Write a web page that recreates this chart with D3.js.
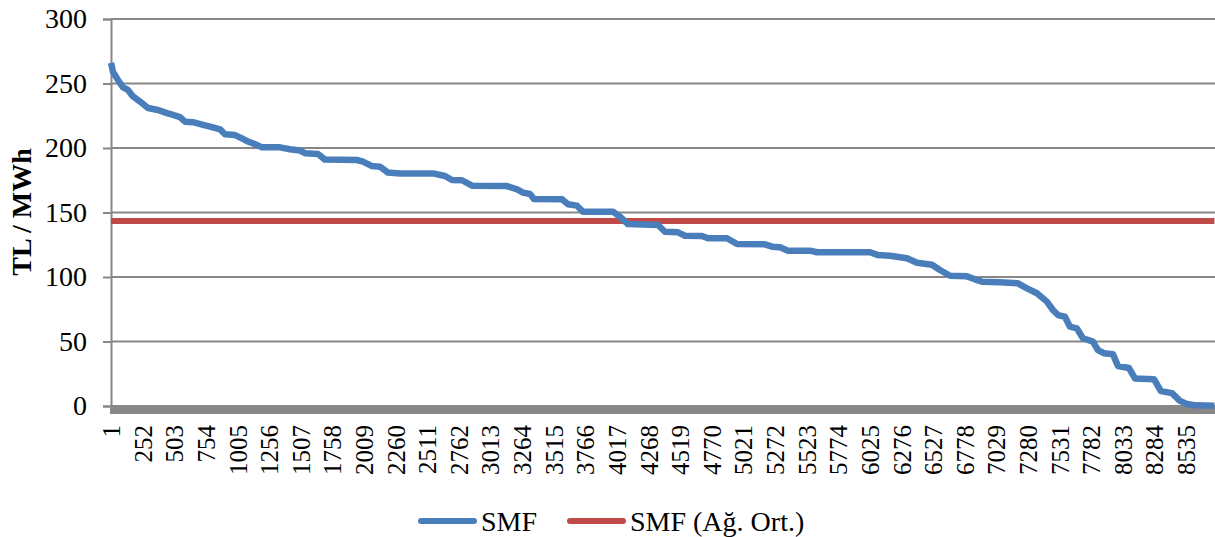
<!DOCTYPE html>
<html><head><meta charset="utf-8">
<script src="https://cdn.jsdelivr.net/npm/d3@7"></script>
<style>html,body{margin:0;padding:0;background:#fff;}svg{display:block;}</style>
</head><body>
<svg id="chart" width="1215" height="537"></svg>
<script>
// Hour index (sorted duration curve) and SMF values
const hours = [1,16,56,96,135,175,231,294,374,445,493,548,588,651,731,810,866,905,985,1040,1088,1144,1199,1342,1421,1501,1540,1644,1699,1953,2001,2072,2136,2199,2295,2557,2652,2707,2787,2866,3144,3224,3271,3327,3358,3581,3628,3700,3747,3985,4041,4104,4343,4398,4501,4557,4692,4740,4891,4970,5192,5248,5311,5375,5549,5605,6026,6089,6184,6319,6399,6518,6581,6661,6795,6859,6914,7057,7200,7272,7351,7430,7478,7518,7573,7613,7668,7716,7795,7835,7883,7954,7994,8081,8129,8280,8335,8423,8486,8542,8614,8760];
const smf   = [266,259,252.7,247,245,240,236,231,229.5,227,225.6,224,220.4,220,218,216,214.5,210.6,210,207.5,205,203,200.5,200.5,199,198,196,195.3,191,190.7,189.4,186,185.5,181,180.3,180.3,178.3,175.2,175,170.8,170.5,168,165.4,164.3,160.5,160.2,156.4,155.3,150.6,150.6,146.7,141,140.3,135.1,134.6,132,131.8,130,130,125.6,125.3,123.5,123,120.4,120.4,119.2,119.2,117,116.5,114.5,111,109.5,105.4,101,100.5,98.2,96.4,95.9,95.1,91.2,87.4,80.9,74.4,70.5,69.2,61.5,60.2,52.5,49.9,43.4,40.9,40.2,31,29.5,21.4,20.8,11.5,10,4,1.5,0.5,0.2];
const avgHours = [1, 8760];
const avgSMF = [143.4, 143.4];
const xTickLabels = [1,252,503,754,1005,1256,1507,1758,2009,2260,2511,2762,3013,3264,3515,3766,4017,4268,4519,4770,5021,5272,5523,5774,6025,6276,6527,6778,7029,7280,7531,7782,8033,8284,8535];
const yTicks = [0,50,100,150,200,250,300];
const seriesNames = ["SMF", "SMF (Ağ. Ort.)"];
const nHours = 8760;

(function () {
const svg = d3.select("#chart");
const font = "'Liberation Serif','Times New Roman',serif";
const pLeft = 111, pRight = 1214.5, pTop = 19, pBottom = 406;

const x = d3.scaleLinear().domain([0.5, nHours + 0.5]).range([pLeft, pRight]);
const y = d3.scaleLinear().domain([0, 300]).range([pBottom, pTop]);

// gridlines
svg.append("g").selectAll("line").data(yTicks.filter(d => d > 0)).join("line")
  .attr("x1", pLeft).attr("x2", 1215)
  .attr("y1", d => y(d)).attr("y2", d => y(d))
  .attr("stroke", "#878787").attr("stroke-width", 2);

// y axis
const yAxis = svg.append("g").attr("transform", `translate(${pLeft},0)`)
  .call(d3.axisLeft(y).tickValues(yTicks).tickSize(8).tickPadding(16).tickFormat(d3.format("d")));
yAxis.select(".domain").attr("stroke", "#878787").attr("stroke-width", 2);
yAxis.selectAll(".tick line").attr("stroke", "#878787").attr("stroke-width", 2);
yAxis.selectAll("text").attr("font-family", font).attr("font-size", 28).attr("fill", "#000");

// x axis (thick gray bar)
const xAxis = svg.append("g").attr("transform", `translate(0,${pBottom})`)
  .call(d3.axisBottom(x).tickValues(xTickLabels).tickSize(0).tickFormat(d3.format("d")));
xAxis.select(".domain").remove();
xAxis.selectAll("text")
  .attr("font-family", font).attr("font-size", 25).attr("fill", "#000")
  .attr("text-anchor", "end")
  .attr("transform", "rotate(-90)")
  .attr("x", -19).attr("y", 0).attr("dy", "0.34em");
svg.append("line").attr("x1", pLeft - 1).attr("x2", 1215)
  .attr("y1", y(0) + 3.5).attr("y2", y(0) + 3.5)
  .attr("stroke", "#878787").attr("stroke-width", 9);

// average line
const avgLine = d3.line().x((d, i) => x(avgHours[i])).y(d => y(d));
svg.append("path").datum(avgSMF).attr("d", avgLine)
  .attr("fill", "none").attr("stroke", "#BE4B48").attr("stroke-width", 6);

// SMF curve
const line = d3.line().x((d, i) => x(hours[i])).y(d => y(d));
svg.append("path").datum(smf).attr("d", line)
  .attr("fill", "none").attr("stroke", "#4A7EBB").attr("stroke-width", 6.5)
  .attr("stroke-linejoin", "round");

// y title
svg.append("text").attr("transform", `translate(21,212) rotate(-90)`)
  .attr("text-anchor", "middle").attr("dy", "0.35em")
  .attr("font-family", font).attr("font-size", 28).attr("font-weight", "bold")
  .text("TL / MWh");

// legend
const legend = [
  {name: seriesNames[0], color: "#4A7EBB", x0: 418},
  {name: seriesNames[1], color: "#BE4B48", x0: 567}
];
const lg = svg.append("g").selectAll("g").data(legend).join("g");
lg.append("line").attr("x1", d => d.x0 + 3).attr("x2", d => d.x0 + 56)
  .attr("y1", 521).attr("y2", 521)
  .attr("stroke", d => d.color).attr("stroke-width", 6).attr("stroke-linecap", "round");
lg.append("text").attr("x", d => d.x0 + 63).attr("y", 531)
  .attr("font-family", font).attr("font-size", 28).attr("fill", "#000")
  .text(d => d.name);
})();
</script>
</body></html>
